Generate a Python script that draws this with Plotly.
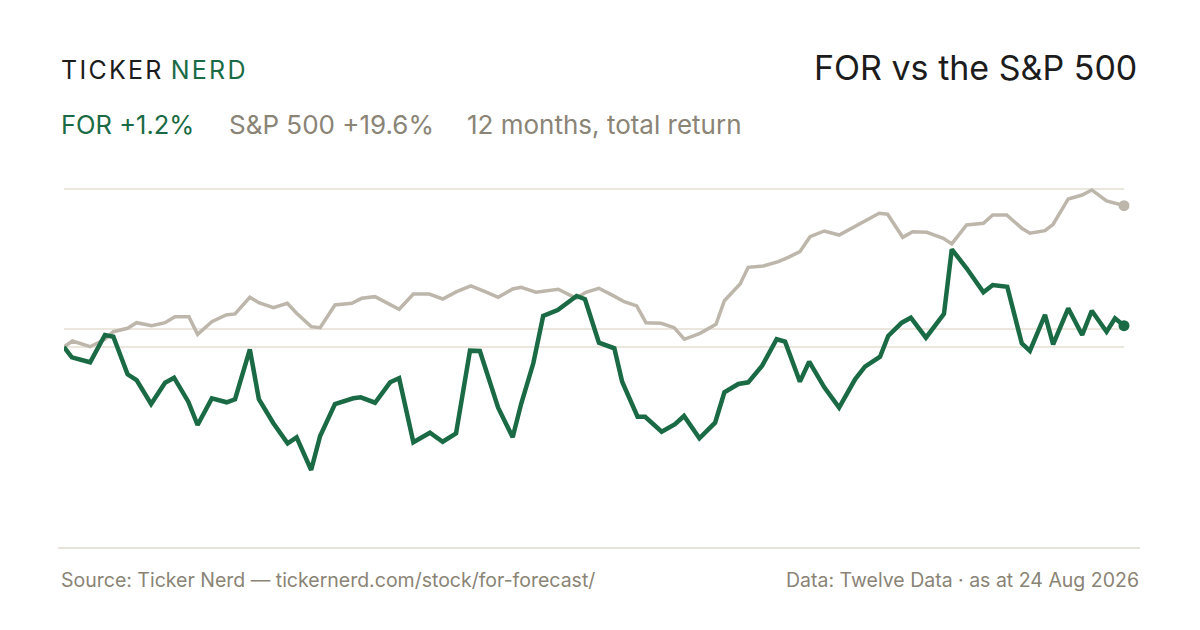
import plotly.graph_objs as go

# days since start of the 12 month window, total return in %
for_days = [0, 2.7, 9.0, 14.1, 17.0, 21.9, 25.0, 30.0, 34.8, 37.9, 42.8, 46.0, 50.9, 56.0, 58.9,
            64.0, 67.1, 72.1, 77.0, 80.1, 85.1, 88.2, 93.3, 99.6, 102.2, 107.1, 112.3, 115.4,
            120.3, 126.0, 130.4, 135.0, 139.8, 143.2, 149.5, 154.5, 157.4, 161.6, 165.0, 170.0,
            176.5, 179.4, 184.2, 189.5, 192.2, 197.5, 200.1, 205.8, 210.4, 213.5, 218.8, 224.2,
            227.4, 232.2, 235.6, 240.4, 245.4, 248.3, 253.4, 256.6, 261.8, 266.9, 272.4, 275.8,
            281.0, 283.8, 288.5, 291.6, 296.8, 303.0, 305.7, 310.8, 316.6, 319.8, 324.8, 329.8,
            332.6, 337.8, 340.6, 345.8, 350.6, 353.9, 359.0, 361.9, 365.0]
for_ret = [0, -1.43, -2.12, 1.66, 1.43, -3.79, -4.58, -7.91, -4.95, -4.26, -7.59, -10.82, -7.12,
           -7.67, -7.25, -0.32, -7.25, -10.58, -13.36, -12.52, -17.06, -12.34, -7.91, -7.12, -6.98,
           -7.73, -4.90, -4.34, -13.22, -11.89, -13.14, -11.97, -0.51, -0.55, -8.42, -12.52, -7.91,
           -2.26, 4.30, 5.13, 7.07, 6.62, 0.60, -0.18, -4.81, -9.67, -9.67, -11.75, -10.72, -9.57,
           -12.66, -10.50, -6.28, -5.13, -4.90, -2.59, 1.07, 0.74, -4.81, -2.04, -5.59, -8.42,
           -4.48, -2.73, -1.35, 1.53, 3.37, 4.06, 1.29, 4.58, 13.55, 10.92, 7.59, 8.60, 8.36, 0.51,
           -0.55, 4.44, 0.37, 5.37, 1.66, 5.03, 2.12, 3.98, 2.95]

spx_days = [0, 2.9, 9.0, 14.1, 17.0, 21.9, 25.0, 30.2, 34.8, 38.2, 43.0, 46.0, 50.9, 55.8, 58.9,
            64.0, 67.1, 72.1, 76.9, 80.1, 85.1, 88.2, 93.3, 99.1, 102.5, 107.1, 115.4, 120.3,
            125.8, 130.4, 135.2, 140.1, 145.0, 149.5, 154.5, 157.4, 162.5, 167.3, 170.2, 175.2,
            176.5, 179.7, 184.2, 189.1, 192.9, 197.2, 200.4, 205.6, 210.1, 213.6, 219.0, 224.5,
            227.4, 232.8, 235.6, 240.8, 246.0, 249.4, 253.4, 256.9, 261.8, 266.9, 272.4, 275.8,
            280.7, 283.6, 288.8, 292.2, 297.1, 302.8, 305.7, 310.8, 316.6, 319.8, 324.6, 329.8,
            332.6, 337.8, 340.6, 345.8, 350.6, 353.9, 359.0, 365.0]
spx_ret = [0, 0.83, 0.04, 1.07, 2.12, 2.59, 3.37, 2.95, 3.37, 4.20, 4.20, 1.76, 3.51, 4.44, 4.58,
           6.89, 6.14, 5.45, 6.06, 4.67, 2.82, 2.68, 5.83, 6.06, 6.75, 6.98, 5.23, 7.35, 7.35,
           6.66, 7.67, 8.46, 7.67, 6.89, 8.04, 8.28, 7.59, 7.91, 8.00, 6.98, 6.80, 7.59, 8.14,
           7.12, 6.28, 5.69, 3.37, 3.29, 2.68, 1.07, 1.90, 3.15, 6.42, 8.74, 11.05, 11.23, 11.83,
           12.44, 13.22, 15.30, 16.09, 15.53, 16.69, 17.38, 18.54, 18.41, 15.21, 15.99, 15.91,
           15.08, 14.29, 16.92, 17.16, 18.31, 18.31, 16.46, 15.77, 16.13, 17.02, 20.53, 21.08,
           21.78, 20.25, 19.60]

grid_vals = [0, 2.5, 21.9]

GREEN = '#1a6b45'
GREY = '#bdb6aa'
TEXT_GREY = '#8a8476'

W, H = 1200, 630
OFF = 8  # page margin of the browser
L, R, T, B = 64 - OFF, 76 + OFF, 180 - OFF, 90 + OFF


def px(x):
    return (x - OFF - L) / (W - L - R)


def py(y):
    return (H - B - (y - OFF)) / (H - T - B)


traces = [
    go.Scatter(x=spx_days, y=spx_ret, mode='lines', line=dict(color=GREY, width=3.5), name='S&P 500'),
    go.Scatter(x=[spx_days[-1]], y=[spx_ret[-1]], mode='markers', marker=dict(color=GREY, size=11),
               cliponaxis=False),
    go.Scatter(x=for_days, y=for_ret, mode='lines', line=dict(color=GREEN, width=4.5), name='FOR'),
    go.Scatter(x=[for_days[-1]], y=[for_ret[-1]], mode='markers', marker=dict(color=GREEN, size=11),
               cliponaxis=False),
]

font = 'Inter, Roboto, sans-serif'
hs = '\u200a'
brand = hs.join('TICKER') + hs + ' ' + '<span style="color:%s">%s</span>' % (GREEN, hs.join('NERD'))

annotations = [
    dict(x=px(59), y=py(70), text=brand, font=dict(size=25, color='#1c1c1c', family=font)),
    dict(x=px(1139), y=py(67), text='FOR vs the S&P 500', xanchor='right',
         font=dict(size=34, color='#1c1c1c', family=font)),
    dict(x=px(59), y=py(124), text='FOR +1.2%', font=dict(size=25.5, color=GREEN, family=font)),
    dict(x=px(227), y=py(124), text='S&P 500 +19.6%', font=dict(size=26, color=TEXT_GREY, family=font)),
    dict(x=px(465), y=py(124), text='12 months, total return', font=dict(size=26, color=TEXT_GREY, family=font)),
    dict(x=px(59), y=py(580), text='Source: Ticker Nerd — tickernerd.com/stock/for-forecast/',
         font=dict(size=19.5, color=TEXT_GREY, family=font)),
    dict(x=px(1141), y=py(580), text='Data: Twelve Data · as at 24 Aug 2026', xanchor='right',
         font=dict(size=19.5, color=TEXT_GREY, family=font)),
]
for a in annotations:
    a.update(xref='paper', yref='paper', showarrow=False, yanchor='middle')
    a.setdefault('xanchor', 'left')

layout = go.Layout(
    width=W, height=H,
    margin=dict(l=L, r=R, t=T, b=B),
    paper_bgcolor='white', plot_bgcolor='white',
    showlegend=False,
    xaxis=dict(range=[0, 365], showgrid=False, zeroline=False, showticklabels=False, showline=False),
    yaxis=dict(range=[-26.77, 23.16], tickvals=grid_vals, showticklabels=False, gridcolor='#ebe7df',
               gridwidth=1.5, zeroline=False, showline=False),
    annotations=annotations,
    shapes=[dict(type='line', xref='paper', yref='paper', x0=px(58), x1=px(1140), y0=py(548), y1=py(548),
                 line=dict(color='#dedacf', width=1.5))],
)

fig = go.Figure(data=traces, layout=layout)
fig.write_html('out.html')
